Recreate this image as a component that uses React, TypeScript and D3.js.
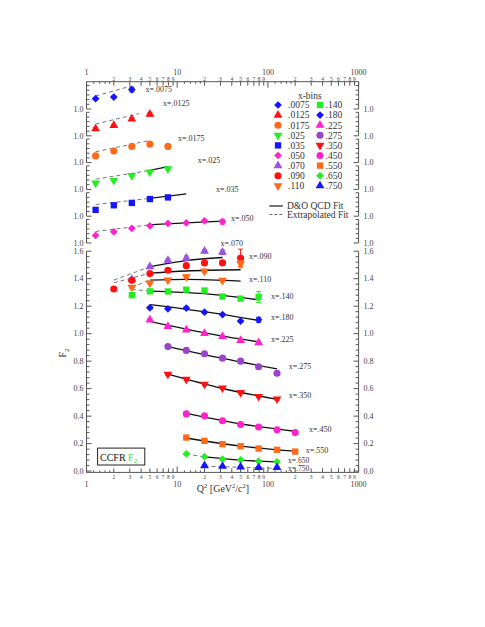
import React from 'react';
import * as d3 from 'd3';

// x-bin labels, colours and marker shapes
const xBins = ['.0075', '.0125', '.0175', '.025', '.035', '.050', '.070', '.090', '.110',
  '.140', '.180', '.225', '.275', '.350', '.450', '.550', '.650', '.750'];
const binColors = ['#1515ff', '#ff1111', '#ff6a1a', '#22ee22', '#1515ff', '#ff22cc', '#9955dd', '#ff1111', '#ff6a1a',
  '#22ee22', '#1515ff', '#ff22cc', '#9944cc', '#ff1111', '#ff22cc', '#ff6a1a', '#22ee22', '#1515ff'];
const binShapes = ['diamond', 'triUp', 'circle', 'triDown', 'square', 'diamond', 'triUp', 'circle', 'triDown',
  'square', 'diamond', 'triUp', 'circle', 'triDown', 'circle', 'square', 'diamond', 'triUp'];

// Q^2 bin centres and the first bin used by each x-bin
const q2Bins = [1.26, 2.0, 3.16, 5.0, 7.9, 12.6, 20, 31.6, 50, 79, 126, 200];
const firstBin = [0, 0, 0, 0, 0, 0, 2, 1, 2, 2, 3, 3, 4, 4, 5, 5, 5, 6];

// measured F2 (first six bins are drawn in their own small offset panels)
const f2Values = [
  [1.088, 1.102, 1.165],
  [1.060, 1.089, 1.143, 1.184],
  [1.057, 1.098, 1.138, 1.157, 1.138],
  [1.053, 1.076, 1.118, 1.147, 1.175],
  [1.054, 1.093, 1.113, 1.146, 1.16],
  [1.064, 1.095, 1.125, 1.146, 1.166, 1.172, 1.189, 1.181],
  [1.395, 1.488, 1.534, 1.55, 1.60, 1.593],
  [1.325, 1.388, 1.437, 1.461, 1.495, 1.515, 1.515, 1.55],
  [1.338, 1.368, 1.39, 1.414, 1.455, 1.388, 1.51],
  [1.28, 1.308, 1.307, 1.32, 1.314, 1.27, 1.255, 1.267],
  [1.188, 1.181, 1.186, 1.156, 1.139, 1.092, 1.101],
  [1.10, 1.053, 1.027, 1.002, 0.979, 0.951, 0.934],
  [0.906, 0.878, 0.854, 0.822, 0.80, 0.759, 0.712],
  [0.705, 0.668, 0.632, 0.605, 0.571, 0.543, 0.525],
  [0.416, 0.402, 0.366, 0.339, 0.321, 0.30, 0.28],
  [0.244, 0.22, 0.196, 0.181, 0.164, 0.155, 0.142],
  [0.125, 0.105, 0.088, 0.081, 0.072, 0.068],
  [0.04, 0.035, 0.03, 0.026, 0.026],
];
const f2Errors = [
  [0.008, 0.008, 0.02],
  [0.008, 0.008, 0.012, 0.016],
  [0.006, 0.006, 0.008, 0.008, 0.015],
  [0.006, 0.006, 0.008, 0.008, 0.01],
  [0.005, 0.005, 0.006, 0.006, 0.008],
  [0.005, 0.005, 0.005, 0.006, 0.006, 0.008, 0.01, 0.02],
  [0.012, 0.01, 0.012, 0.015, 0.012, 0.016],
  [0.012, 0.012, 0.008, 0.008, 0.01, 0.015, 0.015, 0.065],
  [0.012, 0.01, 0.01, 0.012, 0.012, 0.012, 0.02],
  [0.008, 0.006, 0.006, 0.008, 0.008, 0.008, 0.01, 0.04],
  [0.008, 0.006, 0.006, 0.006, 0.008, 0.006, 0.018],
  [0.01, 0.008, 0.008, 0.008, 0.008, 0.008, 0.01],
  [0.008, 0.008, 0.008, 0.008, 0.008, 0.008, 0.008],
  [0.008, 0.008, 0.008, 0.008, 0.008, 0.008, 0.008],
  [0.008, 0.008, 0.008, 0.008, 0.008, 0.008, 0.008],
  [0.006, 0.006, 0.006, 0.006, 0.006, 0.006, 0.006],
  [0.006, 0.005, 0.005, 0.005, 0.005, 0.005],
  [0.006, 0.005, 0.005, 0.005, 0.005],
];

// D&O QCD fit (solid) and extrapolated fit (dashed), [Q2, F2]
const fitSolid = [
  [], [], [],
  [[5, 1.162], [7.9, 1.193]],
  [[5, 1.152], [12.6, 1.19]],
  [[5, 1.155], [12.6, 1.172], [31.6, 1.186]],
  [[5, 1.487], [12.6, 1.532], [31.6, 1.554]],
  [[5, 1.44], [12.6, 1.456], [50, 1.465]],
  [[5, 1.39], [12.6, 1.395], [50, 1.382]],
  [[5, 1.31], [20, 1.291], [79, 1.246]],
  [[5, 1.212], [20, 1.16], [79, 1.096]],
  [[5, 1.089], [20, 1.006], [79, 0.94]],
  [[7.9, 0.906], [31.6, 0.82], [126, 0.744]],
  [[7.9, 0.705], [31.6, 0.601], [126, 0.522]],
  [[12.6, 0.42], [50, 0.344], [200, 0.29]],
  [[12.6, 0.241], [50, 0.182], [200, 0.145]],
  [[20, 0.103], [50, 0.08], [126, 0.067]],
  [],
];
const fitDashed = [
  [[1.26, 1.111], [3.16, 1.197]],
  [[1.26, 1.100], [3.8, 1.189]],
  [[1.26, 1.092], [5, 1.189]],
  [[1.26, 1.087], [5, 1.162]],
  [[1.26, 1.099], [5, 1.152]],
  [[1.26, 1.098], [5, 1.155]],
  [[2, 1.39], [5, 1.487]],
  [[2, 1.37], [5, 1.44]],
  [[3.16, 1.338], [5, 1.39]],
  [[3.16, 1.322], [5, 1.31]],
  [], [], [], [], [], [],
  [[12.6, 0.125], [20, 0.103]],
  [[20, 0.036], [126, 0.02]],
];

// where the "x=..." labels sit, [Q2, F2]
const labelPos = [
  [4.47, 1.145], [6.98, 1.253], [10.2, 1.181], [16.9, 1.221], [26.8, 1.21], [39.2, 1.191],
  [30.0, 1.635], [61.9, 1.544], [61.9, 1.376], [108, 1.255], [108, 1.101], [108, 0.942],
  [170, 0.745], [170, 0.532], [284, 0.287], [261, 0.135], [167, 0.056], [167, -0.002],
];

const W = 485;
const H = 627;
const left = 86.5;
const right = 358.6;
const top = 81.7;
const bottom = 472.4;
const FONT = '"Liberation Serif", "Times New Roman", serif';
const AXIS = '#555';
const TXT = '#444';

const x = d3.scaleLog().domain([1, 1000]).range([left, right]);
const yMain = d3.scaleLinear().domain([0, 1.6]).range([471.1, 251.2]);
const panelScales = d3.range(6).map((i) => {
  const b = 109 + 26.8 * i;
  return d3.scaleLinear().domain([1, 1.2]).range([b, b - 23.5]);
});
const yFor = (bin: number) => (bin < 6 ? panelScales[bin] : yMain);

const symbolPath = (shape: string) => {
  if (shape === 'circle') return d3.symbol(d3.symbolCircle, 40)();
  if (shape === 'square') return d3.symbol(d3.symbolSquare, 40)();
  if (shape === 'diamond') return d3.symbol(d3.symbolSquare, 30)();
  return d3.symbol(d3.symbolTriangle, 34)();
};
const symbolRot = (shape: string) => (shape === 'diamond' ? 45 : shape === 'triDown' ? 180 : 0);

const Marker = ({ shape, color, cx, cy }: any) => (
  <path d={symbolPath(shape) as string} fill={color}
    transform={`translate(${cx},${cy}) rotate(${symbolRot(shape)})`} />
);

const line = d3.line<[number, number]>().curve(d3.curveMonotoneX);

const App = () => {
  // log axis ticks
  const decades = [1, 10, 100];
  const xMajor = [1, 10, 100, 1000];
  const xMinor = decades.flatMap((d) => d3.range(2, 10).map((m) => m * d));
  const xSub = decades.flatMap((d) => [1.2, 1.4, 1.6, 1.8].map((m) => m * d));

  const mainMajor = d3.range(0, 1.61, 0.2);
  const mainMinor = d3.range(0, 1.6, 0.04).filter((v) => Math.abs(v / 0.2 - Math.round(v / 0.2)) > 0.01);
  const panelMinor = [1.04, 1.08, 1.12, 1.16, 1.2];

  const yAxisSide = (side: 'L' | 'R') => {
    const ax = side === 'L' ? left : right;
    const dir = side === 'L' ? 1 : -1;
    const out: any[] = [];
    panelScales.forEach((s, i) => {
      const y0 = s(1);
      const y1 = i === 0 ? top : s(1.2);
      out.push(<line key={`seg${i}`} x1={ax} x2={ax} y1={y0} y2={y1} stroke={AXIS} strokeWidth={1} />);
      out.push(<line key={`maj${i}`} x1={ax} x2={ax + dir * 5} y1={y0} y2={y0} stroke={AXIS} />);
      panelMinor.forEach((v, j) => (
        out.push(<line key={`min${i}-${j}`} x1={ax} x2={ax + dir * 3} y1={s(v)} y2={s(v)} stroke={AXIS} />)
      ));
      out.push(
        <text key={`lab${i}`} x={side === 'L' ? ax - 3 : ax + 5} y={y0 + 2.8}
          textAnchor={side === 'L' ? 'end' : 'start'} fontSize={8} fill={TXT}>1.0</text>
      );
    });
    out.push(<line key="mainSeg" x1={ax} x2={ax} y1={yMain(1.6)} y2={bottom} stroke={AXIS} />);
    mainMajor.forEach((v, j) => {
      out.push(<line key={`mm${j}`} x1={ax} x2={ax + dir * 5} y1={yMain(v)} y2={yMain(v)} stroke={AXIS} />);
      out.push(
        <text key={`ml${j}`} x={side === 'L' ? ax - 3 : ax + 5} y={yMain(v) + 2.8}
          textAnchor={side === 'L' ? 'end' : 'start'} fontSize={8} fill={TXT}>{d3.format('.1f')(v)}</text>
      );
    });
    mainMinor.forEach((v, j) => (
      out.push(<line key={`mn${j}`} x1={ax} x2={ax + dir * 3} y1={yMain(v)} y2={yMain(v)} stroke={AXIS} />)
    ));
    return out;
  };

  const xAxisSide = (side: 'T' | 'B') => {
    const ay = side === 'T' ? top : bottom;
    const dir = side === 'T' ? 1 : -1;
    const out: any[] = [];
    out.push(<line key="ax" x1={left} x2={right} y1={ay} y2={ay} stroke={AXIS} />);
    xMajor.forEach((v) => {
      out.push(<line key={`M${v}`} x1={x(v)} x2={x(v)} y1={ay} y2={ay + dir * 6} stroke={AXIS} />);
      out.push(
        <text key={`ML${v}`} x={x(v)} y={side === 'T' ? 74.5 : 486.5} textAnchor="middle" fontSize={8} fill={TXT}>{v}</text>
      );
    });
    xMinor.forEach((v) => {
      out.push(<line key={`m${v}`} x1={x(v)} x2={x(v)} y1={ay} y2={ay + dir * 4} stroke={AXIS} />);
      const digit = Math.round(v / Math.pow(10, Math.floor(Math.log10(v) + 1e-9)));
      out.push(
        <text key={`mL${v}`} x={x(v)} y={side === 'T' ? 80.5 : 479} textAnchor="middle" fontSize={5.5} fill={TXT}>{digit}</text>
      );
    });
    xSub.forEach((v) => (
      out.push(<line key={`s${v}`} x1={x(v)} x2={x(v)} y1={ay} y2={ay + dir * 2} stroke={AXIS} />)
    ));
    return out;
  };

  return (
    <svg width={W} height={H} style={{ position: 'absolute', left: 0, top: 0, background: '#fff' }} fontFamily={FONT}>
      {xAxisSide('T')}
      {xAxisSide('B')}
      {yAxisSide('L')}
      {yAxisSide('R')}

      {/* fits */}
      {xBins.map((b, i) => {
        const y = yFor(i);
        return (
          <g key={`fit${b}`}>
            {fitDashed[i].length > 0 && (
              <path d={line(fitDashed[i].map(([q, v]) => [x(q), y(v)] as [number, number])) as string}
                fill="none" stroke="#777" strokeWidth={1} strokeDasharray="4,3" />
            )}
            {fitSolid[i].length > 0 && (
              <path d={line(fitSolid[i].map(([q, v]) => [x(q), y(v)] as [number, number])) as string}
                fill="none" stroke="#111" strokeWidth={1.3} />
            )}
          </g>
        );
      })}

      {/* data */}
      {xBins.map((b, i) => {
        const y = yFor(i);
        return (
          <g key={`pts${b}`}>
            {f2Values[i].map((v, j) => {
              const q = q2Bins[firstBin[i] + j];
              const e = f2Errors[i][j];
              const cx = x(q);
              return (
                <g key={j}>
                  <line x1={cx} x2={cx} y1={y(v - e)} y2={y(v + e)} stroke={binColors[i]} strokeWidth={1} />
                  <line x1={cx - 2.5} x2={cx + 2.5} y1={y(v - e)} y2={y(v - e)} stroke={binColors[i]} />
                  <line x1={cx - 2.5} x2={cx + 2.5} y1={y(v + e)} y2={y(v + e)} stroke={binColors[i]} />
                  <Marker shape={binShapes[i]} color={binColors[i]} cx={cx} cy={y(v)} />
                </g>
              );
            })}
            <text x={x(labelPos[i][0])} y={y(labelPos[i][1])} fontSize={i >= 16 ? 7.5 : 8} fill="#333">{`x=${b}`}</text>
          </g>
        );
      })}

      {/* legend */}
      <text x={309.8} y={99} textAnchor="middle" fontSize={9.5} fill="#333">x-bins</text>
      {xBins.map((b, i) => {
        const col = i < 9 ? 0 : 1;
        const row = i % 9;
        const ly = 105 + row * 10.1;
        const mx = col === 0 ? 278 : 320;
        return (
          <g key={`leg${b}`}>
            <Marker shape={binShapes[i]} color={binColors[i]} cx={mx} cy={ly} />
            <text x={col === 0 ? 288 : 325.6} y={ly + 3.3} fontSize={9.5} fill="#333">{b}</text>
          </g>
        );
      })}
      <line x1={269.4} x2={282.8} y1={206} y2={206} stroke="#444" strokeWidth={1.5} />
      <text x={287} y={209.3} fontSize={9.5} fill="#333">D&amp;O QCD Fit</text>
      <line x1={269.4} x2={282.8} y1={214.5} y2={214.5} stroke="#666" strokeWidth={1} strokeDasharray="3,2" />
      <text x={287} y={217.8} fontSize={9.5} fill="#333">Extrapolated Fit</text>

      {/* axis titles */}
      <text transform="translate(66,353) rotate(-90)" textAnchor="middle" fontSize={10} fill="#333">
        F<tspan dy={2.5} fontSize={7}>2</tspan>
      </text>
      <text x={223} y={492} textAnchor="middle" fontSize={10} fill="#333">
        Q<tspan dy={-4} fontSize={6.5}>2</tspan>
        <tspan dy={4}> [GeV</tspan><tspan dy={-4} fontSize={6.5}>2</tspan>
        <tspan dy={4}>/c</tspan><tspan dy={-4} fontSize={6.5}>2</tspan><tspan dy={4}>]</tspan>
      </text>

      {/* CCFR box */}
      <rect x={97.6} y={448.1} width={47.2} height={16.9} fill="#fff" stroke="#222" strokeWidth={1} />
      <text x={100} y={460.5} fontSize={10} fill="#111">
        CCFR <tspan fill="#33dd33">F</tspan><tspan fill="#33dd33" fontSize={7} dy={2}>2</tspan>
      </text>
    </svg>
  );
};

export default App;
